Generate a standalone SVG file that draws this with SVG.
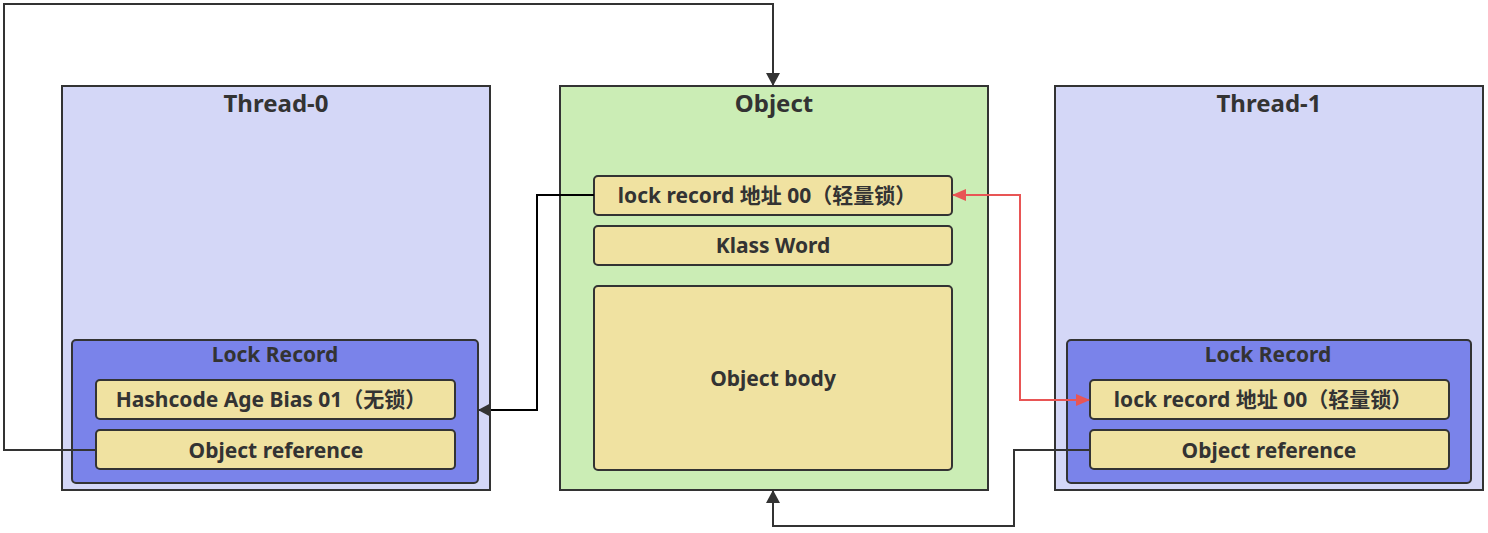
<svg xmlns="http://www.w3.org/2000/svg" width="1488" height="533" viewBox="0 0 1488 533">
<style>
text{font-family:"Noto Sans","Noto Sans CJK SC",sans-serif;font-weight:bold;fill:#333;text-anchor:middle;dominant-baseline:central}
.t{font-size:24px}
.l{font-size:21px}
.thr{fill:#d4d7f7;stroke:#333;stroke-width:2}
.obj{fill:#cbedb5;stroke:#333;stroke-width:2}
.lr{fill:#7a83ea;stroke:#333;stroke-width:2}
.it{fill:#f0e2a1;stroke:#333;stroke-width:2}
.c{fill:none;stroke:#333;stroke-width:2}
.r{fill:none;stroke:#e85555;stroke-width:2}
</style>
<defs>
<marker id="ar" markerWidth="14" markerHeight="12" refX="13" refY="6" orient="auto-start-reverse" markerUnits="userSpaceOnUse" viewBox="0 0 14 12"><path d="M0,0 L14,6 L0,12 z" fill="#e85555"/></marker>
<marker id="ak2" markerWidth="13" markerHeight="14" refX="12" refY="7" orient="auto" markerUnits="userSpaceOnUse" viewBox="0 0 13 14"><path d="M0,0 L13,7 L0,14 z" fill="#333"/></marker>
</defs>
<g id="thread0">
<rect class="thr" x="62" y="86" width="428" height="404"/>
<text class="t" x="276" y="102">Thread-0</text>
</g>
<g id="object">
<rect class="obj" x="560" y="86" width="428" height="404"/>
<text class="t" x="774" y="102">Object</text>
</g>
<g id="thread1">
<rect class="thr" x="1055" y="86" width="428" height="404"/>
<text class="t" x="1269" y="102">Thread-1</text>
</g>
<g id="lockrecord0">
<rect class="lr" x="72" y="340" width="406" height="143" rx="4"/>
<text class="l" x="275" y="354">Lock Record</text>
</g>
<g id="hashcode0">
<rect class="it" x="96" y="380" width="359" height="39" rx="4"/>
<text class="l" x="271" y="399">Hashcode Age Bias 01（无锁）</text>
</g>
<g id="objref0">
<rect class="it" x="96" y="430" width="359" height="39" rx="4"/>
<text class="l" x="276" y="450">Object reference</text>
</g>
<g id="markword">
<rect class="it" x="594" y="176" width="358" height="39" rx="4"/>
<text class="l" x="767" y="195">lock record 地址 00（轻量锁）</text>
</g>
<g id="klass">
<rect class="it" x="594" y="226" width="358" height="39" rx="4"/>
<text class="l" x="773" y="245">Klass Word</text>
</g>
<g id="body">
<rect class="it" x="594" y="286" width="358" height="184" rx="4"/>
<text class="l" x="773" y="378">Object body</text>
</g>
<g id="lockrecord1">
<rect class="lr" x="1067" y="340" width="404" height="143" rx="4"/>
<text class="l" x="1268" y="354">Lock Record</text>
</g>
<g id="lrentry1">
<rect class="it" x="1090" y="380" width="359" height="39" rx="4"/>
<text class="l" x="1263" y="399">lock record 地址 00（轻量锁）</text>
</g>
<g id="objref1">
<rect class="it" x="1090" y="430" width="359" height="39" rx="4"/>
<text class="l" x="1269" y="450">Object reference</text>
</g>
<g id="connectors">
<path class="c" d="M96,450 H4 V4 H773 V85" marker-end="url(#ak2)"/>
<path class="c" d="M594,195 H537 V410 H479" marker-end="url(#ak2)" style="stroke:#000"/>
<path class="r" d="M953,195 H1020 V400 H1089" marker-start="url(#ar)" marker-end="url(#ar)"/>
<path class="c" d="M1090,450 H1014 V526 H773 V491" marker-end="url(#ak2)"/>
</g>
</svg>
